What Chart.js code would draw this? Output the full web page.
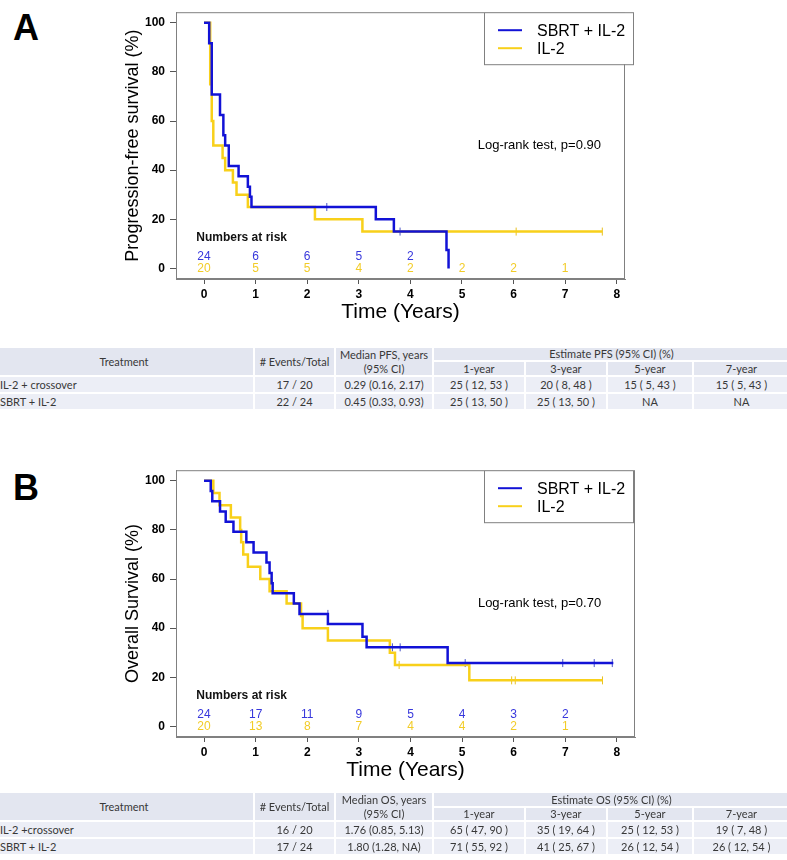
<!DOCTYPE html>
<html>
<head>
<meta charset="utf-8">
<script src="https://cdn.jsdelivr.net/npm/chart.js@4.4.1/dist/chart.umd.min.js"></script>
<style>
  body { margin: 0; background: #fff; width: 787px; height: 860px; position: relative; overflow: hidden; }
  canvas.km { position: absolute; left: 0; }
  .tag { position: absolute; left: 13px; font: bold 36px 'Liberation Sans', Arial, sans-serif; line-height: 36px; color: #000; }
  .cell { position: absolute; display: flex; align-items: center; justify-content: center; text-align: center;
          font: 11px Lato, 'Open Sans', sans-serif; line-height: 14px; color: #383838; background: #eceef6;
          white-space: pre-line; z-index: 2; }
  .cell.head { background: #e3e6f0; }
  .cell.name { justify-content: flex-start; padding-left: 5px; box-sizing: border-box; }
</style>
</head>
<body>
<div class="tag" style="top:10px">A</div>
<div class="tag" style="top:470px">B</div>
<canvas class="km" id="pfsChart" width="787" height="340" style="top:0"></canvas>
<canvas class="km" id="osChart" width="787" height="340" style="top:458px"></canvas>
<script>
// ---- data ----
const groups = ['SBRT + IL-2', 'IL-2'];
const xTicks = [0, 1, 2, 3, 4, 5, 6, 7, 8];
const yTicks = [0, 20, 40, 60, 80, 100];
const riskTimes = [0, 1, 2, 3, 4, 5, 6, 7];

// Panel A - progression-free survival
const pfsSbrtTime = [0, 0.10, 0.15, 0.31, 0.375, 0.41, 0.48, 0.67, 0.85, 0.89, 0.92, 3.33, 3.68, 4.70, 4.74];
const pfsSbrtSurv = [100, 91.7, 70.8, 62.5, 54.2, 50, 41.7, 37.5, 33.3, 29.2, 25, 20, 15, 7.5, 0];
const pfsSbrtCensTime = [2.38, 3.80];
const pfsSbrtCensSurv = [25, 15];
const pfsIl2Time = [0, 0.12, 0.15, 0.18, 0.36, 0.41, 0.56, 0.63, 0.85, 2.15, 3.07, 7.72];
const pfsIl2Surv = [100, 75, 60, 50, 45, 40, 35, 30, 25, 20, 15, 15];
const pfsIl2CensTime = [6.05, 7.72];
const pfsIl2CensSurv = [15, 15];
const pfsRiskSbrt = [24, 6, 6, 5, 2];
const pfsRiskIl2 = [20, 5, 5, 4, 2, 2, 2, 1];
const pfsTest = 'Log-rank test, p=0.90';

// Panel B - overall survival
const osSbrtTime = [0, 0.13, 0.16, 0.31, 0.42, 0.57, 0.82, 0.96, 1.21, 1.27, 1.31, 1.33, 1.74, 1.85, 2.40, 3.07, 3.15, 4.72, 7.93];
const osSbrtSurv = [100, 95.8, 91.7, 87.5, 83.3, 79.2, 75, 70.8, 66.7, 62.5, 58.3, 54.2, 50, 45.8, 41.7, 36.5, 32.2, 25.8, 25.8];
const osSbrtCensTime = [2.40, 3.65, 3.80, 5.06, 6.95, 7.56, 7.91];
const osSbrtCensSurv = [45.8, 32.2, 32.2, 25.8, 25.8, 25.8, 25.8];
const osIl2Time = [0, 0.18, 0.30, 0.52, 0.70, 0.72, 0.76, 0.85, 1.09, 1.27, 1.60, 1.88, 1.91, 2.40, 3.60, 3.70, 5.14, 7.72];
const osIl2Surv = [100, 95, 90, 85, 80, 75, 70, 65, 60, 55, 50, 45, 40, 35, 30, 25, 18.75, 18.75];
const osIl2CensTime = [3.78, 5.96, 6.03, 7.72];
const osIl2CensSurv = [25, 18.75, 18.75, 18.75];
const osRiskSbrt = [24, 17, 11, 9, 5, 4, 3, 2];
const osRiskIl2 = [20, 13, 8, 7, 4, 4, 2, 1];
const osTest = 'Log-rank test, p=0.70';

// tables
const yearCols = ['1-year', '3-year', '5-year', '7-year'];
const pfsHead = ['Treatment', '# Events/Total', 'Median PFS, years\n(95% CI)', 'Estimate PFS (95% CI) (%)'];
const pfsRows = [
  ['IL-2 + crossover', '17 / 20', '0.29 (0.16, 2.17)', '25 ( 12, 53 )', '20 ( 8, 48 )', '15 ( 5, 43 )', '15 ( 5, 43 )'],
  ['SBRT + IL-2', '22 / 24', '0.45 (0.33, 0.93)', '25 ( 13, 50 )', '25 ( 13, 50 )', 'NA', 'NA']
];
const osHead = ['Treatment', '# Events/Total', 'Median OS, years\n(95% CI)', 'Estimate OS (95% CI) (%)'];
const osRows = [
  ['IL-2 +crossover', '16 / 20', '1.76 (0.85, 5.13)', '65 ( 47, 90 )', '35 ( 19, 64 )', '25 ( 12, 53 )', '19 ( 7, 48 )'],
  ['SBRT + IL-2', '17 / 24', '1.80 (1.28, NA)', '71 ( 55, 92 )', '41 ( 25, 67 )', '26 ( 12, 54 )', '26 ( 12, 54 )']
];

// ---- styling ----
const BLUE = '#1212d6';
const YELLOW = '#f8d01a';
const FONT = "'Liberation Sans', Arial, sans-serif";
Chart.defaults.font.family = FONT;
Chart.defaults.color = '#000';

const toPts = (t, s) => t.map((v, i) => ({ x: v, y: s[i] }));

const kmDecor = {
  id: 'kmDecor',
  beforeDatasetsDraw(chart) {
    const { ctx, chartArea: a } = chart;
    ctx.save();
    ctx.strokeStyle = '#808080';
    ctx.lineWidth = 1;
    ctx.strokeRect(a.left + 0.5, a.top + 0.5, a.width - 1, a.height - 1);
    ctx.restore();
  },
  afterDatasetsDraw(chart, args, opts) {
    const { ctx, chartArea: a, scales: { x, y } } = chart;
    const ds = chart.data.datasets;
    ctx.save();
    // numbers at risk
    ctx.textBaseline = 'middle';
    ctx.textAlign = 'left';
    ctx.fillStyle = '#111';
    ctx.font = 'bold 12px ' + FONT;
    ctx.fillText('Numbers at risk', x.getPixelForValue(-0.15), y.getPixelForValue(12.6));
    ctx.font = '12px ' + FONT;
    ctx.textAlign = 'center';
    opts.risk.forEach(r => {
      ctx.fillStyle = r.color;
      r.counts.forEach((n, i) => ctx.fillText(String(n), x.getPixelForValue(riskTimes[i]), y.getPixelForValue(r.y)));
    });
    // log-rank
    ctx.fillStyle = '#000';
    ctx.font = '13px ' + FONT;
    ctx.fillText(opts.test, x.getPixelForValue(6.5), y.getPixelForValue(50));
    // legend box, top right of the frame
    const left = 484, right = 634, top = a.top, h = 52;
    ctx.fillStyle = '#fff';
    ctx.fillRect(left, top, right - left, h);
    ctx.strokeStyle = '#808080';
    ctx.lineWidth = 1;
    ctx.strokeRect(left + 0.5, top + 0.5, right - left - 1, h);
    ctx.font = '16px ' + FONT;
    ctx.textAlign = 'left';
    [0, 1].forEach(i => {
      const ly = top + 18 + i * 18;
      ctx.strokeStyle = ds[i].borderColor;
      ctx.lineWidth = 2;
      ctx.beginPath();
      ctx.moveTo(498, ly);
      ctx.lineTo(522, ly);
      ctx.stroke();
      ctx.fillStyle = '#000';
      ctx.fillText(ds[i].label, 537, ly + 1);
    });
    ctx.restore();
  }
};

function makeKM(id, sbrt, il2, sbrtCens, il2Cens, riskSbrt, riskIl2, yTitle, test, xMax, padRight) {
  return new Chart(document.getElementById(id), {
    type: 'line',
    data: {
      datasets: [
        { label: groups[0], data: sbrt, stepped: true, borderColor: BLUE, borderWidth: 2.5, pointRadius: 0 },
        { label: groups[1], data: il2, stepped: true, borderColor: YELLOW, borderWidth: 2.5, pointRadius: 0 },
        { label: groups[0] + ' censored', data: sbrtCens, showLine: false, pointStyle: 'line', rotation: 90,
          pointRadius: 4, pointBorderWidth: 1, pointBorderColor: '#4a55c8', borderColor: '#4a55c8' },
        { label: groups[1] + ' censored', data: il2Cens, showLine: false, pointStyle: 'line', rotation: 90,
          pointRadius: 4, pointBorderWidth: 1, pointBorderColor: '#e8c020', borderColor: '#e8c020' }
      ]
    },
    options: {
      responsive: false,
      animation: false,
      events: [],
      layout: { padding: { left: 0, right: padRight, top: 3, bottom: 0 } },
      plugins: {
        legend: { display: false },
        tooltip: { enabled: false },
        kmDecor: {
          test: test,
          risk: [
            { counts: riskSbrt, color: '#3838dc', y: 4.8 },
            { counts: riskIl2, color: '#f2cc28', y: 0 }
          ]
        }
      },
      scales: {
        x: {
          type: 'linear', min: -0.543, max: xMax,
          afterFit(s) { s.height = 61; },
          afterBuildTicks(s) { s.ticks = xTicks.map(v => ({ value: v })); },
          ticks: { autoSkip: false, maxRotation: 0, padding: 3, color: '#000', font: { size: 12, weight: 'bold' } },
          grid: { drawOnChartArea: false, drawTicks: true, tickLength: 5, color: '#555' },
          border: { color: '#808080' },
          title: { display: true, text: 'Time (Years)', font: { size: 21 }, padding: { top: 0, bottom: 15 } }
        },
        y: {
          min: -4.3, max: 104.3,
          afterFit(s) { s.width = 176; },
          afterBuildTicks(s) { s.ticks = yTicks.map(v => ({ value: v })); },
          ticks: { padding: 5, color: '#000', font: { size: 12, weight: 'bold' } },
          grid: { drawOnChartArea: false, drawTicks: true, tickLength: 6, color: '#555' },
          border: { color: '#808080' },
          title: { display: true, text: yTitle, font: { size: 18 }, padding: { top: 122, bottom: 0 } }
        }
      }
    },
    plugins: [kmDecor]
  });
}

makeKM('pfsChart', toPts(pfsSbrtTime, pfsSbrtSurv), toPts(pfsIl2Time, pfsIl2Surv),
  toPts(pfsSbrtCensTime, pfsSbrtCensSurv), toPts(pfsIl2CensTime, pfsIl2CensSurv),
  pfsRiskSbrt, pfsRiskIl2, 'Progression-free survival (%)', pfsTest, 8.16, 162);

makeKM('osChart', toPts(osSbrtTime, osSbrtSurv), toPts(osIl2Time, osIl2Surv),
  toPts(osSbrtCensTime, osSbrtCensSurv), toPts(osIl2CensTime, osIl2CensSurv),
  osRiskSbrt, osRiskIl2, 'Overall Survival (%)', osTest, 8.35, 152);

// ---- summary tables under each panel ----
const colX = [-6, 254, 335, 433, 525, 607, 693, 790];

function cell(rowY, c0, c1, r0, r1, text, cls) {
  const d = document.createElement('div');
  d.className = 'cell ' + (cls || '');
  d.style.left = (colX[c0] + 1) + 'px';
  d.style.width = (colX[c1 + 1] - colX[c0] - 2) + 'px';
  d.style.top = (rowY[r0] + 1) + 'px';
  d.style.height = (rowY[r1 + 1] - rowY[r0] - 2) + 'px';
  d.textContent = text;
  document.body.appendChild(d);
}

function buildTable(rowY, head, rows) {
  cell(rowY, 0, 0, 0, 1, head[0], 'head');
  cell(rowY, 1, 1, 0, 1, head[1], 'head');
  cell(rowY, 2, 2, 0, 1, head[2], 'head');
  cell(rowY, 3, 6, 0, 0, head[3], 'head');
  yearCols.forEach((t, i) => cell(rowY, 3 + i, 3 + i, 1, 1, t, 'head'));
  rows.forEach((r, ri) => r.forEach((t, ci) => cell(rowY, ci, ci, 2 + ri, 2 + ri, t, ci === 0 ? 'name' : '')));
}

buildTable([347, 361, 376, 393, 410], pfsHead, pfsRows);
buildTable([792, 807, 821, 838, 855], osHead, osRows);
</script>
</body>
</html>
